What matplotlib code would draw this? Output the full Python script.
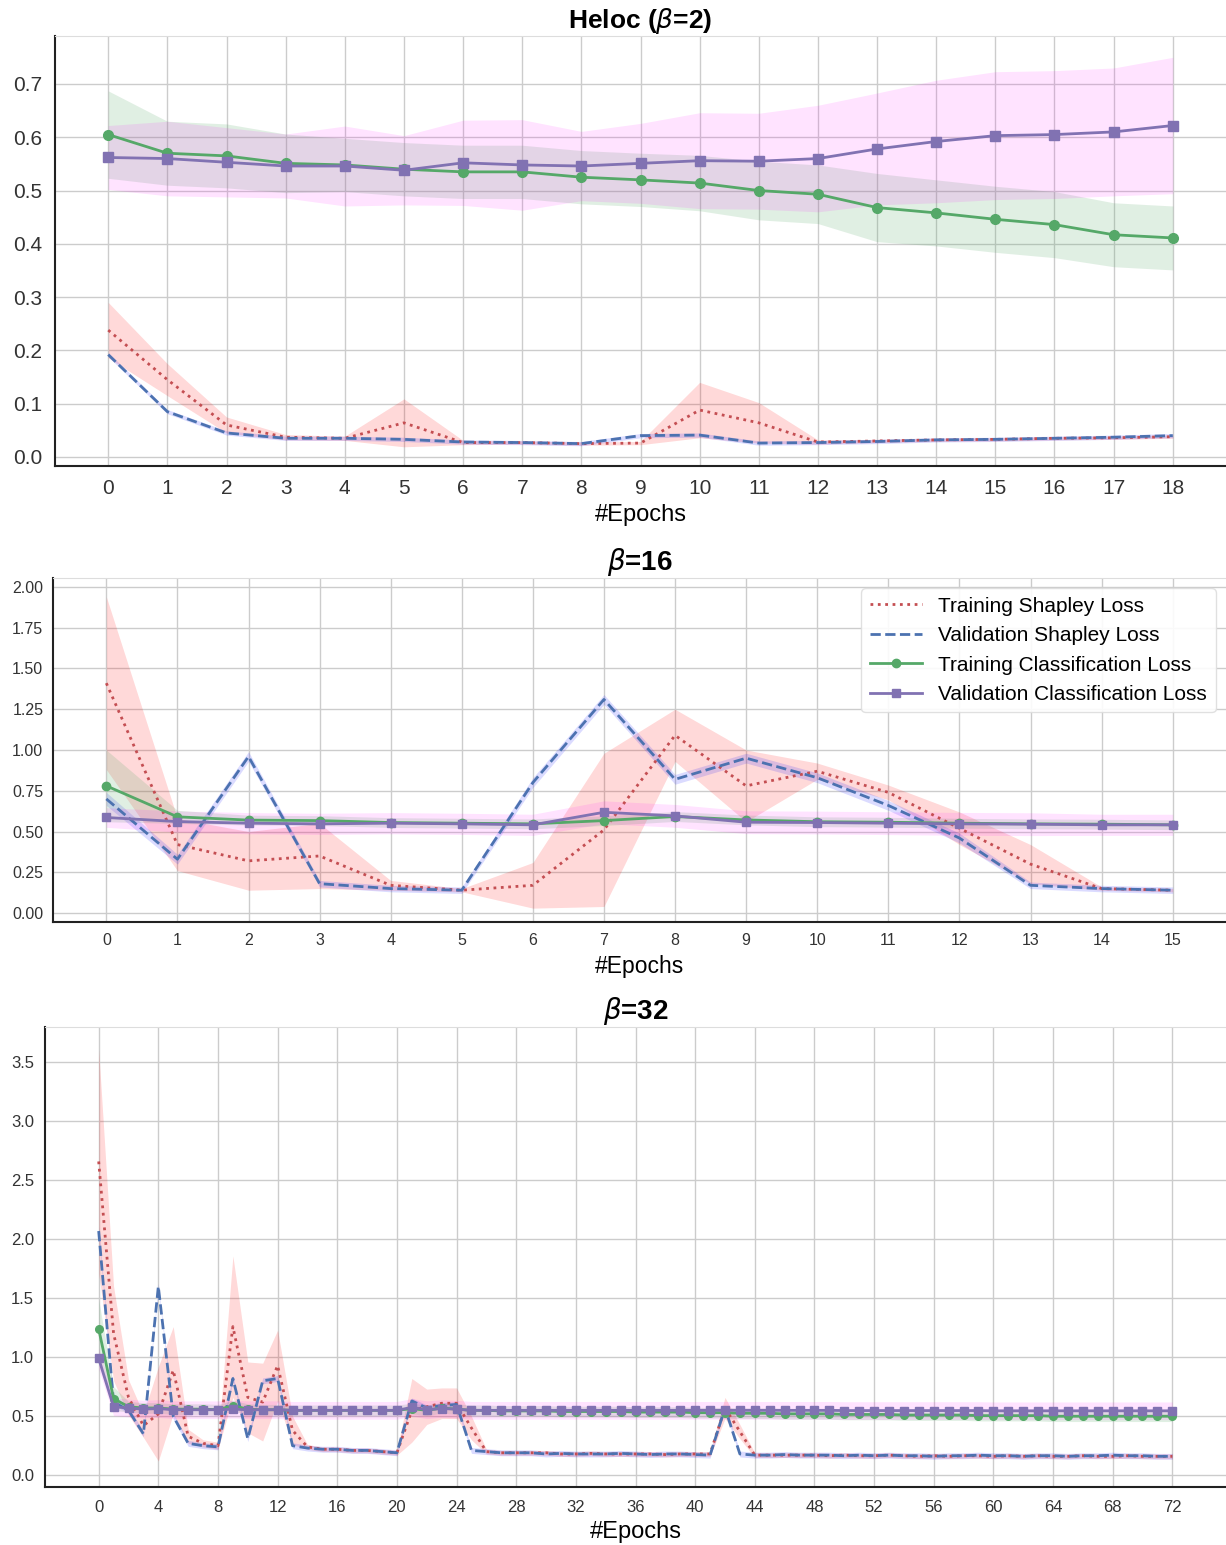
import numpy as np
import matplotlib
matplotlib.use("Agg")
import matplotlib.pyplot as plt
from matplotlib.ticker import FormatStrFormatter

plt.rcParams['font.family'] = ['Liberation Sans', 'DejaVu Sans']
plt.rcParams['mathtext.fontset'] = 'dejavusans'

labels = ["Training Shapley Loss", "Validation Shapley Loss",
          "Training Classification Loss", "Validation Classification Loss"]

# ---------------- Panel 1: Heloc (beta=2) ----------------
p1_titles = "Heloc ($\\beta$=2)"
p1_train_shap = [0.238, 0.145, 0.060, 0.037, 0.035, 0.064, 0.027, 0.027, 0.025, 0.026,
                 0.088, 0.064, 0.028, 0.030, 0.032, 0.033, 0.035, 0.036, 0.038]
p1_train_shap_sd = [0.052, 0.030, 0.015, 0.005, 0.004, 0.045, 0.004, 0.003, 0.003, 0.003,
                    0.052, 0.038, 0.004, 0.003, 0.003, 0.003, 0.003, 0.003, 0.003]
p1_val_shap = [0.192, 0.085, 0.045, 0.035, 0.035, 0.033, 0.028, 0.027, 0.025, 0.040,
               0.041, 0.026, 0.027, 0.029, 0.032, 0.033, 0.035, 0.037, 0.040]
p1_val_shap_sd = [0.004] * 19
p1_train_cls = [0.605, 0.570, 0.565, 0.551, 0.548, 0.540, 0.535, 0.535, 0.525, 0.520,
                0.514, 0.500, 0.493, 0.468, 0.458, 0.446, 0.436, 0.417, 0.411]
p1_train_cls_sd = [0.082, 0.060, 0.060, 0.055, 0.050, 0.050, 0.050, 0.050, 0.050, 0.050,
                   0.052, 0.055, 0.055, 0.064, 0.062, 0.062, 0.062, 0.060, 0.060]
p1_val_cls = [0.562, 0.560, 0.553, 0.546, 0.546, 0.538, 0.552, 0.548, 0.546, 0.551,
              0.556, 0.555, 0.560, 0.578, 0.592, 0.603, 0.605, 0.610, 0.622]
p1_val_cls_sd = [0.060, 0.070, 0.065, 0.060, 0.075, 0.065, 0.080, 0.085, 0.065, 0.075,
                 0.090, 0.090, 0.100, 0.105, 0.115, 0.120, 0.120, 0.120, 0.128]

# ---------------- Panel 2: beta=16 ----------------
p2_title = "$\\beta$=16"
p2_train_shap = [1.41, 0.42, 0.32, 0.35, 0.17, 0.14, 0.17, 0.51, 1.09, 0.78,
                 0.87, 0.74, 0.52, 0.30, 0.15, 0.14]
p2_train_shap_sd = [0.53, 0.16, 0.18, 0.20, 0.03, 0.01, 0.14, 0.47, 0.16, 0.22,
                    0.05, 0.045, 0.10, 0.12, 0.01, 0.01]
p2_val_shap = [0.70, 0.33, 0.96, 0.18, 0.15, 0.14, 0.80, 1.31, 0.82, 0.95,
               0.83, 0.66, 0.46, 0.17, 0.15, 0.14]
p2_val_shap_sd = [0.04, 0.03, 0.03, 0.02, 0.02, 0.02, 0.03, 0.03, 0.03, 0.03,
                  0.03, 0.03, 0.03, 0.02, 0.02, 0.02]
p2_train_cls = [0.78, 0.59, 0.57, 0.567, 0.555, 0.551, 0.547, 0.567, 0.592, 0.571,
                0.56, 0.557, 0.551, 0.547, 0.545, 0.541]
p2_train_cls_sd = [0.22, 0.04, 0.03, 0.03, 0.03, 0.03, 0.03, 0.03, 0.03, 0.03,
                   0.03, 0.03, 0.03, 0.03, 0.03, 0.03]
p2_val_cls = [0.586, 0.561, 0.551, 0.547, 0.551, 0.547, 0.541, 0.618, 0.596, 0.557,
              0.555, 0.551, 0.547, 0.545, 0.541, 0.541]
p2_val_cls_sd = [0.06, 0.065, 0.065, 0.065, 0.065, 0.065, 0.065, 0.07, 0.07, 0.07,
                 0.07, 0.07, 0.07, 0.07, 0.065, 0.065]

# ---------------- Panel 3: beta=32 ----------------
p3_title = "$\\beta$=32"
p3_train_shap = [2.66, 1.20, 0.66, 0.42, 0.52, 0.89, 0.33, 0.27, 0.25, 1.26,
                 0.66, 0.62, 0.93, 0.38, 0.24, 0.22, 0.22, 0.21, 0.21, 0.20,
                 0.19, 0.55, 0.58, 0.61, 0.61, 0.40, 0.20, 0.19, 0.19, 0.19,
                 0.19, 0.18, 0.18, 0.185, 0.18, 0.18, 0.18, 0.18, 0.175, 0.18,
                 0.18, 0.18, 0.57, 0.37, 0.17, 0.17, 0.17, 0.17, 0.17, 0.165,
                 0.17, 0.165, 0.165, 0.17, 0.165, 0.16, 0.165, 0.16, 0.165, 0.165,
                 0.16, 0.165, 0.16, 0.165, 0.16, 0.16, 0.165, 0.16, 0.16, 0.165,
                 0.16, 0.16, 0.16]
p3_train_shap_sd = [0.95, 0.40, 0.15, 0.10, 0.40, 0.37, 0.06, 0.03, 0.03, 0.60,
                    0.30, 0.33, 0.30, 0.12, 0.02, 0.02, 0.02, 0.02, 0.02, 0.02,
                    0.02, 0.27, 0.15, 0.13, 0.13, 0.10, 0.02, 0.02, 0.02, 0.02,
                    0.02, 0.02, 0.02, 0.02, 0.02, 0.02, 0.02, 0.02, 0.02, 0.02,
                    0.02, 0.02, 0.09, 0.06, 0.02, 0.02, 0.02, 0.02, 0.02, 0.02,
                    0.02, 0.02, 0.02, 0.02, 0.02, 0.02, 0.02, 0.02, 0.02, 0.02,
                    0.02, 0.02, 0.02, 0.02, 0.02, 0.02, 0.02, 0.02, 0.02, 0.02,
                    0.02, 0.02, 0.02]
p3_val_shap = [2.07, 0.62, 0.55, 0.35, 1.60, 0.50, 0.27, 0.25, 0.24, 0.82,
               0.31, 0.80, 0.82, 0.25, 0.23, 0.22, 0.22, 0.21, 0.21, 0.20,
               0.19, 0.63, 0.57, 0.59, 0.60, 0.21, 0.20, 0.19, 0.19, 0.19,
               0.18, 0.185, 0.18, 0.18, 0.18, 0.185, 0.18, 0.175, 0.18, 0.18,
               0.175, 0.17, 0.57, 0.18, 0.17, 0.17, 0.175, 0.17, 0.17, 0.17,
               0.165, 0.17, 0.165, 0.17, 0.165, 0.165, 0.16, 0.165, 0.165, 0.17,
               0.165, 0.165, 0.16, 0.165, 0.165, 0.16, 0.165, 0.165, 0.17, 0.165,
               0.165, 0.16, 0.16]
p3_val_shap_sd = [0.04] + [0.025] * 72
p3_train_cls = [1.24, 0.65, 0.58, 0.57, 0.57, 0.56, 0.56, 0.56, 0.555, 0.59,
                0.56, 0.555, 0.555, 0.55, 0.55, 0.55, 0.55, 0.55, 0.55, 0.55,
                0.55, 0.565, 0.55, 0.57, 0.56, 0.55, 0.55, 0.545, 0.545, 0.545,
                0.545, 0.54, 0.54, 0.54, 0.54, 0.54, 0.535, 0.535, 0.535, 0.535,
                0.53, 0.53, 0.53, 0.525, 0.525, 0.525, 0.52, 0.52, 0.52, 0.52,
                0.515, 0.515, 0.515, 0.515, 0.51, 0.51, 0.51, 0.51, 0.51, 0.505,
                0.505, 0.505, 0.505, 0.505, 0.50, 0.50, 0.50, 0.50, 0.50, 0.50,
                0.50, 0.50, 0.50]
p3_train_cls_sd = [0.25, 0.10] + [0.045] * 71
p3_val_cls = [0.99, 0.58, 0.57, 0.56, 0.565, 0.555, 0.555, 0.555, 0.555, 0.56,
              0.555, 0.555, 0.555, 0.55, 0.55, 0.55, 0.55, 0.55, 0.55, 0.55,
              0.55, 0.575, 0.555, 0.565, 0.56, 0.55, 0.55, 0.55, 0.55, 0.55,
              0.55, 0.55, 0.55, 0.55, 0.55, 0.55, 0.55, 0.55, 0.55, 0.55,
              0.55, 0.55, 0.55, 0.55, 0.55, 0.55, 0.55, 0.55, 0.55, 0.55,
              0.548, 0.548, 0.548, 0.548, 0.548, 0.548, 0.548, 0.548, 0.548, 0.548,
              0.546, 0.546, 0.546, 0.546, 0.546, 0.546, 0.546, 0.546, 0.546, 0.546,
              0.546, 0.546, 0.546]
p3_val_cls_sd = [0.09] + [0.075] * 72

line_colors = ['#C44E52', '#4C72B0', '#55A868', '#8172B2']
fill_colors = [('red', 0.15), ('blue', 0.14), ('#55A868', 0.18), ('magenta', 0.11)]
styles = [':', '--', '-', '-']
markers = [None, None, 'o', 's']

fig = plt.figure(figsize=(12.26, 15.45), dpi=100)

panels = [
    dict(rect=[55/1226, 1-466/1545, 1171/1226, 430/1545],
         title=p1_titles,
         data=[(p1_train_shap, p1_train_shap_sd), (p1_val_shap, p1_val_shap_sd),
               (p1_train_cls, p1_train_cls_sd), (p1_val_cls, p1_val_cls_sd)],
         ylim=(-0.017, 0.79), yticks=np.arange(0, 0.71, 0.1), yfmt='%.1f',
         xstep=1, tickfs=15, labfs=17, titlefs=19, ms=7, xpad=9, ypad=9),
    dict(rect=[53/1226, 1-922/1545, 1173/1226, 344/1545],
         title=p2_title,
         data=[(p2_train_shap, p2_train_shap_sd), (p2_val_shap, p2_val_shap_sd),
               (p2_train_cls, p2_train_cls_sd), (p2_val_cls, p2_val_cls_sd)],
         ylim=(-0.055, 2.055), yticks=np.arange(0, 2.01, 0.25), yfmt='%.2f',
         xstep=1, tickfs=11.5, labfs=16.5, titlefs=20, ms=6, xpad=8, ypad=7),
    dict(rect=[45/1226, 1-1487/1545, 1181/1226, 460/1545],
         title=p3_title,
         data=[(p3_train_shap, p3_train_shap_sd), (p3_val_shap, p3_val_shap_sd),
               (p3_train_cls, p3_train_cls_sd), (p3_val_cls, p3_val_cls_sd)],
         ylim=(-0.1, 3.8), yticks=np.arange(0, 3.51, 0.5), yfmt='%.1f',
         xstep=4, tickfs=12, labfs=17, titlefs=20, ms=5.5, xpad=9, ypad=8),
]

for pi, p in enumerate(panels):
    ax = fig.add_axes(p['rect'])
    n = len(p['data'][0][0])
    x = np.arange(n)
    for k, (m, sd) in enumerate(p['data']):
        m = np.asarray(m); sd = np.asarray(sd)
        fc, fa = fill_colors[k]
        ax.fill_between(x, m - sd, m + sd, color=fc, alpha=fa, lw=0, zorder=1)
    handles = []
    for k, (m, sd) in enumerate(p['data']):
        h, = ax.plot(x, m, linestyle=styles[k], color=line_colors[k], lw=2,
                     marker=markers[k], markersize=p['ms'], label=labels[k], zorder=3 + k)
        handles.append(h)
    ax.set_xlim(-0.05 * (n - 1), (n - 1) * 1.05)
    ax.set_ylim(*p['ylim'])
    ax.set_xticks(np.arange(0, n, p['xstep']))
    ax.set_yticks(p['yticks'])
    ax.yaxis.set_major_formatter(FormatStrFormatter(p['yfmt']))
    ax.grid(True, color='#cccccc', lw=1)
    ax.set_axisbelow(True)
    ax.tick_params(axis='both', length=0, labelsize=p['tickfs'], colors='#333333')
    ax.tick_params(axis='x', pad=p['xpad'])
    ax.tick_params(axis='y', pad=p['ypad'])
    for s in ['left', 'bottom']:
        ax.spines[s].set_color('#222222')
        ax.spines[s].set_linewidth(1.5)
    ax.spines['top'].set_color('#dddddd')
    ax.spines['right'].set_visible(False)
    ax.set_xlabel('#Epochs', fontsize=p['labfs'], labelpad=5)
    ax.set_title(p['title'], fontsize=p['titlefs'], fontweight='bold', pad=4)
    if pi == 1:
        ax.legend(handles=handles, loc='upper right', fontsize=15, frameon=True,
                  fancybox=True, framealpha=0.9, edgecolor='#dddddd',
                  labelspacing=0.5, handlelength=2.5, borderaxespad=0.5)

fig.savefig('out.png', dpi=100)
